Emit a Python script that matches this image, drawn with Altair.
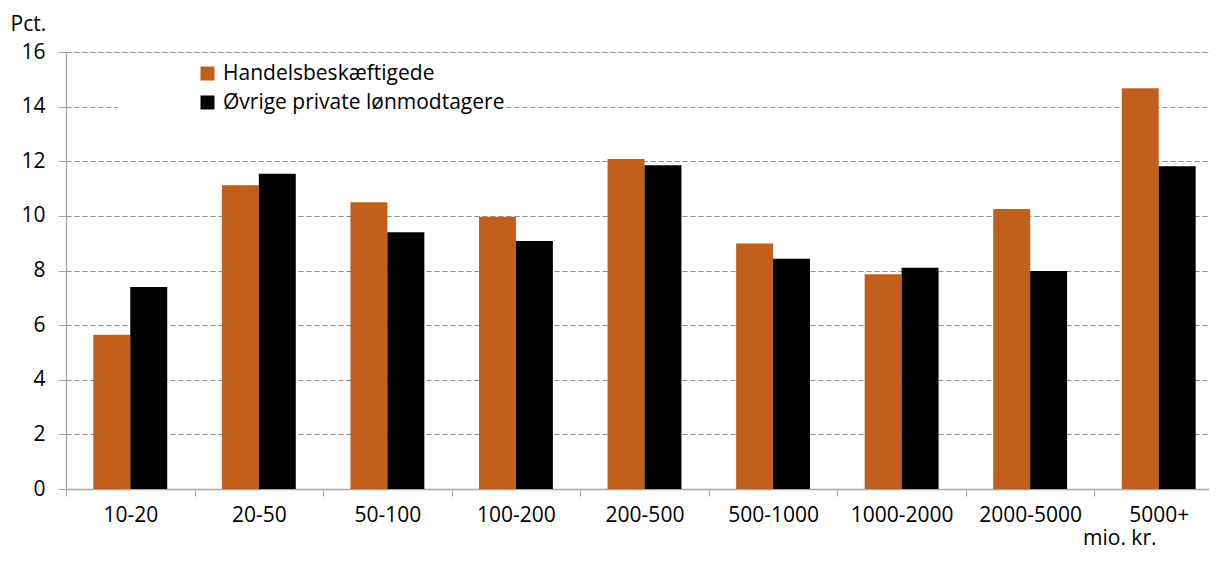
import altair as alt
import pandas as pd

categories = ["10-20", "20-50", "50-100", "100-200", "200-500", "500-1000", "1000-2000", "2000-5000", "5000+"]
handel = [5.65, 11.12, 10.5, 9.97, 12.08, 8.99, 7.86, 10.25, 14.67]
ovrige = [7.4, 11.54, 9.4, 9.08, 11.85, 8.43, 8.1, 7.98, 11.82]
series = ["Handelsbeskæftigede", "Øvrige private lønmodtagere"]
colors = ["#C1601C", "#000000"]

rows = []
for c, h, o in zip(categories, handel, ovrige):
    rows.append({"kat": c, "serie": series[0], "val": h})
    rows.append({"kat": c, "serie": series[1], "val": o})
df = pd.DataFrame(rows)

FONT = "Open Sans"
FS = 21
W, H = 1143, 437

x = alt.X(
    "kat:N",
    sort=categories,
    scale=alt.Scale(paddingInner=0, paddingOuter=0, range=[0, 1157]),
    axis=alt.Axis(
        title="mio. kr.",
        titleX=1090,
        titleY=55,
        titleAlign="right",
        titleBaseline="alphabetic",
        titleFont=FONT,
        titleFontSize=FS,
        titleFontWeight="normal",
        titleColor="#000000",
        labelAngle=0,
        labelFont=FONT,
        labelFontSize=FS,
        labelColor="#000000",
        labelPadding=8,
        tickBand="extent",
        tickSize=7,
        tickColor="#a6a6a6",
        domainColor="#a6a6a6",
        domainWidth=1.3,
        grid=False,
    ),
)

y = alt.Y(
    "val:Q",
    scale=alt.Scale(domain=[0, 16], nice=False),
    axis=alt.Axis(
        values=[0, 2, 4, 6, 8, 10, 12, 14, 16],
        title="Pct.",
        titleAngle=0,
        titleX=-56,
        titleY=-22,
        titleAlign="left",
        titleBaseline="alphabetic",
        titleFont=FONT,
        titleFontSize=FS,
        titleFontWeight="normal",
        titleColor="#000000",
        labelFont=FONT,
        labelFontSize=FS,
        labelColor="#000000",
        labelPadding=13,
        tickSize=8,
        tickColor="#a6a6a6",
        domainColor="#a6a6a6",
        domainWidth=1.3,
        grid=True,
        gridColor="#8c8c8c",
        gridDash=[5, 3],
        gridWidth=1,
    ),
)

# white backdrop behind the legend (hides gridlines, like the original legend box)
backdrop = alt.Chart(pd.DataFrame({"a": [0]})).mark_rect(fill="white").encode(
    x=alt.value(52), x2=alt.value(440), y=alt.value(5), y2=alt.value(70)
)

bars = alt.Chart(df).mark_bar().encode(
    x=x,
    y=y,
    xOffset=alt.XOffset("serie:N", sort=series, scale=alt.Scale(paddingInner=0, paddingOuter=0.74)),
    color=alt.Color(
        "serie:N",
        sort=series,
        scale=alt.Scale(domain=series, range=colors),
        legend=alt.Legend(
            title=None,
            orient="none",
            legendX=131,
            legendY=11,
            symbolType="square",
            symbolSize=196,
            symbolStrokeWidth=0,
            labelFont=FONT,
            labelFontSize=FS,
            labelColor="#000000",
            labelOffset=5,
            rowPadding=7,
            labelLimit=400,
        ),
    ),
)

chart = (
    alt.layer(backdrop, bars)
    .properties(
        width=W,
        height=H,
        autosize=alt.AutoSizeParams(type="none"),
        padding={"left": 58, "top": 44, "right": 0, "bottom": 63},
    )
    .configure_view(stroke=None)
    .configure(font=FONT)
)

chart.save("out.html", embed_options={"renderer": "svg", "actions": False})
